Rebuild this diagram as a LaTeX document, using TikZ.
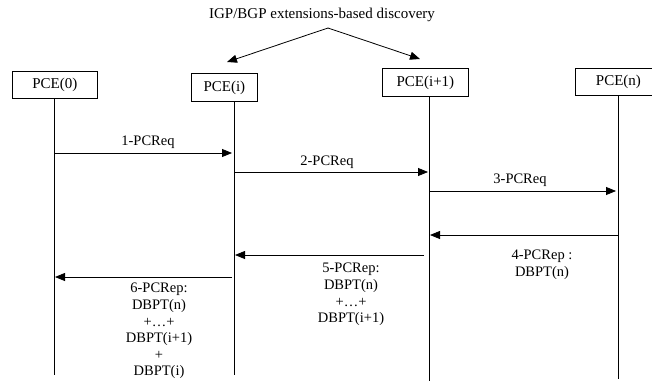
\documentclass[tikz,border=0pt]{standalone}
\usepackage{fontspec}
\setmainfont{Liberation Serif}
\usetikzlibrary{arrows.meta}

\tikzset{
  pcebox/.style={draw, line width=0.8pt, inner sep=0pt, anchor=north west,
                 font=\fontsize{15}{17}\selectfont},
  lifeline/.style={line width=0.8pt},
  msg/.style={line width=0.8pt, -{Triangle[length=10pt,width=8pt]}},
  lbl/.style={inner sep=0pt, align=center, font=\fontsize{14.5}{16.6}\selectfont},
}

\begin{document}
\begin{tikzpicture}[x=1pt, y=-1pt]
  \useasboundingbox (0,0) rectangle (652,383);
  \clip (0,0) rectangle (652,383);

  % discovery title and its two arrows
  \node[lbl, font=\fontsize{15}{17}\selectfont] (title) at (322,15) {IGP/BGP extensions-based discovery};
  \coordinate (apex) at (328,28);
  \coordinate (tipi) at (227,62);
  \coordinate (tipj) at (420,59);
  \draw[msg] (apex) -- (tipi);
  \draw[msg] (apex) -- (tipj);

  % the four PCEs
  \node[pcebox, minimum width=85pt, minimum height=27pt] (p0) at (12,71) {PCE(0)};
  \node[pcebox, minimum width=66pt, minimum height=28pt] (pi) at (191,73) {PCE(i)};
  \node[pcebox, minimum width=86pt, minimum height=28pt] (pj) at (382,68) {PCE(i+1)};
  \node[pcebox, minimum width=86pt, minimum height=27pt] (pn) at (575,68) {PCE(n)};

  % lifelines
  \coordinate (l0) at (54,98);   \coordinate (l0e) at (54,375);
  \coordinate (li) at (234,101); \coordinate (lie) at (234,375);
  \coordinate (lj) at (429,96);  \coordinate (lje) at (429,381);
  \coordinate (ln) at (618,95);  \coordinate (lne) at (618,379);
  \draw[lifeline] (l0) -- (l0e);
  \draw[lifeline] (li) -- (lie);
  \draw[lifeline] (lj) -- (lje);
  \draw[lifeline] (ln) -- (lne);

  % message rows
  \coordinate (r1) at (0,153);
  \coordinate (r2) at (0,172);
  \coordinate (r3) at (0,191);
  \coordinate (r4) at (0,235);
  \coordinate (r5) at (0,255);
  \coordinate (r6) at (0,277);

  \draw[msg, shorten >=2pt] (l0 |- r1) -- (li |- r1);
  \draw[msg, shorten >=1pt] (li |- r2) -- (lj |- r2);
  \draw[msg, shorten >=2pt] (lj |- r3) -- (ln |- r3);
  \draw[msg, shorten >=1pt] (ln |- r4) -- (lj |- r4);
  \draw[msg, shorten <=5pt, shorten >=1pt] (lj |- r5) -- (li |- r5);
  \draw[msg, shorten <=2pt, shorten >=1pt] (li |- r6) -- (l0 |- r6);

  % message labels
  \node[lbl] (m1) at (148,142) {1-PCReq};
  \node[lbl] (m2) at (327,162) {2-PCReq};
  \node[lbl] (m3) at (520,180) {3-PCReq};
  \node[lbl, anchor=north] (m4) at (542,250) {4-PCRep :\\DBPT(n)};
  \node[lbl, anchor=north] (m5) at (351,263) {5-PCRep:\\DBPT(n)\\+\ldots+\\DBPT(i+1)};
  \node[lbl, anchor=north] (m6) at (159,283) {6-PCRep:\\DBPT(n)\\+\ldots+\\DBPT(i+1)\\+\\DBPT(i)};
\end{tikzpicture}
\end{document}
